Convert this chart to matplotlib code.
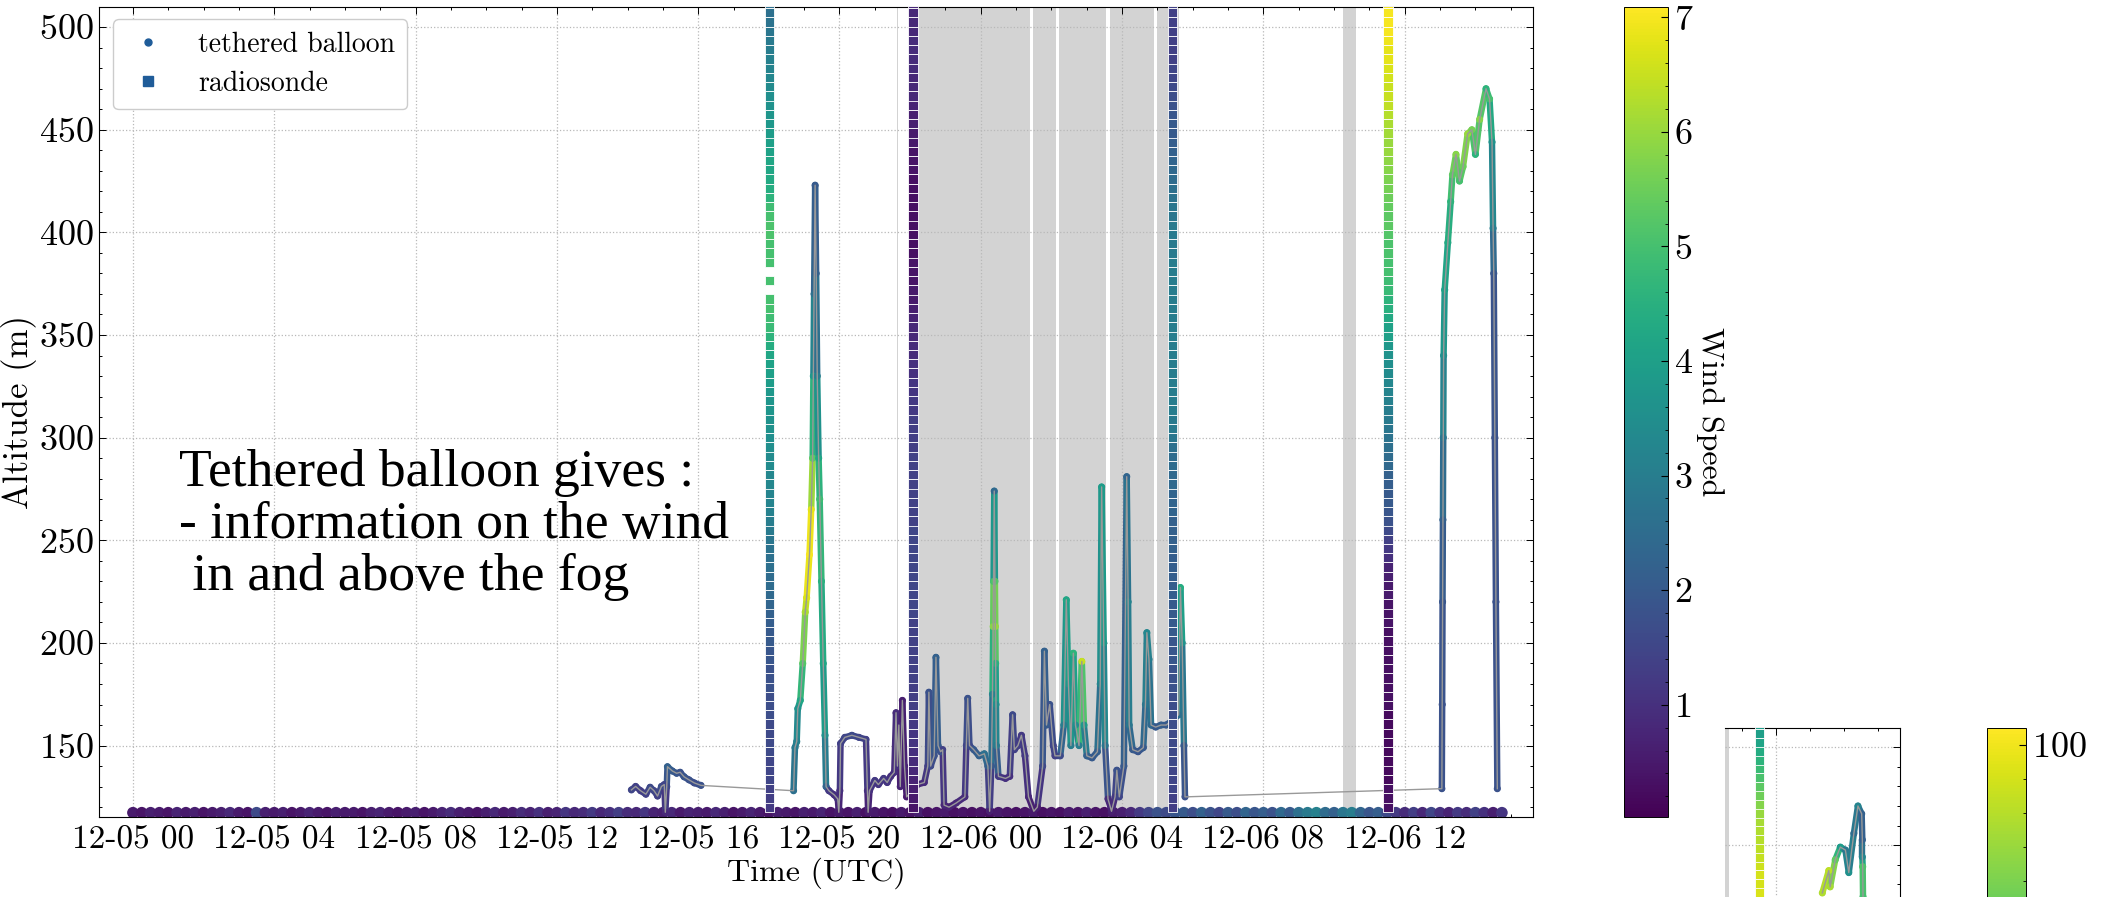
#!/usr/bin/env python3

'''altitude / time plot of tethered balloon and radiosonde wind speed'''

import numpy as np
import matplotlib
matplotlib.use('Agg')
import matplotlib.pyplot as plt
import matplotlib.dates as mdates
from matplotlib.collections import LineCollection
from matplotlib.lines import Line2D
from matplotlib.ticker import MultipleLocator

T0 = mdates.date2num(np.datetime64('2020-12-05T00:00'))

# fog periods (hours since 12-05 00 UTC)
fog_start = [21.62, 21.98, 25.49, 26.20, 27.67, 29.00, 34.26]
fog_end = [21.66, 25.39, 26.12, 27.53, 28.90, 29.60, 34.62]

# ground level wind, one value every 15 min from 12-05 00
band_alt = 117.3
band_ws = [
    0.5, 0.4, 0.6, 0.5, 0.4, 0.7, 0.5, 0.6, 0.4, 0.5, 0.6, 0.8, 0.5, 0.4, 1.6, 0.6,
    0.5, 0.6, 0.4, 0.5, 0.7, 0.5, 0.4, 0.6, 0.5, 0.5, 0.4, 0.6, 0.7, 0.5, 0.4, 0.5,
    0.6, 0.4, 0.5, 0.7, 0.9, 0.6, 0.5, 0.4, 0.6, 0.8, 0.5, 0.6, 0.9, 0.7, 1.0, 0.6,
    0.7, 1.1, 0.8, 0.9, 1.2, 0.8, 1.0, 1.3, 0.9, 0.8, 1.1, 0.7, 0.6, 0.8, 0.5, 0.7,
    0.6, 0.5, 0.8, 0.6, 0.4, 0.5, 0.7, 0.5, 0.4, 0.6, 0.5, 0.4, 0.6, 0.5, 0.7, 0.4,
    0.5, 0.4, 0.6, 0.3, 0.5, 0.4, 0.3, 0.5, 0.4, 0.6, 0.3, 0.4, 0.5, 0.3, 0.4, 0.3,
    0.4, 0.3, 0.5, 0.4, 0.3, 0.4, 0.5, 0.3, 0.4, 0.3, 0.5, 0.4, 0.6, 0.4, 0.3, 0.5,
    0.6, 0.8, 1.2, 1.5, 1.8, 1.6, 1.9, 2.0, 1.7, 2.2, 1.8, 1.5, 2.0, 1.7, 2.3, 1.9,
    2.1, 1.8, 2.4, 2.0, 2.6, 2.9, 3.1, 2.5, 2.2, 2.8, 3.0, 2.3, 1.9, 2.1, 1.6, 1.2,
    0.9, 1.3, 0.8, 1.5, 1.0, 0.7, 1.2, 0.9, 1.4, 1.0, 0.6, 1.1]
band_step = 0.25

# tethered balloon flights: hours, altitude (m), wind speed
fl1_h = [14.11, 14.23, 14.37, 14.52, 14.64, 14.75, 14.85, 14.96, 15.04, 15.07,
         15.11, 15.13, 15.27, 15.39, 15.49, 15.60, 15.74, 15.89, 16.08]
fl1_alt = [128.4, 130.1, 128.0, 126.3, 129.7, 128.0, 125.4, 130.1, 131.0, 117.5,
           130.0, 139.7, 137.6, 136.5, 137.0, 134.8, 133.3, 131.8, 130.6]
fl1_ws = [1.5, 1.4, 1.3, 1.4, 1.6, 1.5, 1.4, 1.7, 1.5, 0.8,
          1.6, 2.2, 2.0, 1.9, 1.8, 1.9, 1.8, 1.7, 1.8]

fl2_h = [18.70, 18.74, 18.79, 18.82, 18.89, 18.96, 19.03, 19.07, 19.15, 19.20,
         19.24, 19.26, 19.28, 19.31, 19.34, 19.37, 19.41, 19.44, 19.49, 19.54,
         19.59, 19.62,
         19.70, 19.85, 19.95, 19.98, 20.01, 20.03, 20.15, 20.35, 20.55, 20.75,
         20.79, 20.81, 20.85, 21.00, 21.10, 21.25, 21.35, 21.45, 21.55, 21.60,
         21.64, 21.68, 21.72, 21.78, 21.84, 21.90,
         22.20, 22.40, 22.50, 22.53, 22.58, 22.68, 22.73, 22.79, 22.86, 22.92,
         22.96, 23.10, 23.30, 23.55, 23.59, 23.63, 23.68, 23.80, 23.95, 24.10,
         24.20, 24.25, 24.30, 24.33, 24.35, 24.36, 24.38, 24.40, 24.41, 24.42,
         24.43, 24.44, 24.50, 24.70, 24.82, 24.90, 24.95, 25.05, 25.15, 25.25,
         25.35, 25.50, 25.60, 25.75, 25.80, 25.86, 25.95, 26.05, 26.10, 26.25,
         26.35, 26.42, 26.48, 26.55, 26.62, 26.68, 26.78, 26.86, 26.92, 27.00,
         27.15, 27.30, 27.38, 27.42, 27.48, 27.52, 27.60, 27.70, 27.80, 27.85,
         27.92, 28.05, 28.13, 28.17, 28.20, 28.30, 28.45, 28.60, 28.66, 28.70,
         28.76, 28.82, 28.95, 29.10, 29.25, 29.40, 29.60, 29.65, 29.70, 29.75,
         29.78]
fl2_alt = [128, 149, 152, 168, 172, 190, 215, 222, 243, 265,
           290, 330, 370, 423, 380, 330, 290, 270, 230, 190,
           155, 130,
           128, 126, 124, 117.5, 128, 151, 154, 155, 154, 153,
           128, 117.5, 128, 133, 131, 134, 132, 135, 137, 166,
           140, 160, 130, 172, 140, 125,
           131, 132, 140, 176, 140, 145, 193, 150, 147, 148,
           121, 120, 122, 125, 150, 173, 150, 148, 145, 146,
           140, 118, 140, 175, 208, 230, 274, 230, 208, 190,
           170, 150, 135, 134, 135, 165, 148, 150, 155, 145,
           125, 118, 120, 140, 196, 160, 170, 150, 145, 145,
           160, 221, 180, 150, 195, 160, 150, 191, 160, 145,
           144, 147, 180, 276, 200, 150, 124, 118, 125, 138,
           125, 140, 281, 220, 160, 148, 147, 149, 170, 205,
           192, 160, 159, 160, 160, 162, 165, 227, 200, 150,
           125]
fl2_ws = [2.6, 2.9, 3.1, 3.6, 4.2, 5.2, 6.2, 6.7, 7.0, 6.8,
          5.3, 3.8, 2.6, 2.0, 2.2, 3.0, 4.2, 4.9, 4.5, 4.2,
          3.6, 2.3,
          1.2, 1.0, 1.0, 0.5, 1.0, 1.4, 1.5, 1.6, 1.5, 1.4,
          1.0, 0.5, 1.0, 1.2, 1.1, 1.2, 1.1, 1.0, 1.0, 0.9,
          1.0, 0.8, 0.7, 0.6, 0.7, 0.5,
          0.8, 0.9, 1.4, 1.8, 1.6, 1.8, 2.2, 2.0, 1.8, 1.4,
          0.8, 0.7, 0.8, 0.9, 1.5, 1.8, 1.6, 2.0, 2.2, 2.6,
          2.2, 0.6, 2.0, 3.2, 5.8, 5.0, 2.4, 5.2, 6.0, 4.5,
          3.5, 3.0, 1.2, 1.0, 1.0, 1.6, 1.4, 1.3, 1.2, 1.2,
          0.8, 0.5, 0.6, 1.6, 2.2, 2.0, 1.8, 1.5, 1.4, 1.6,
          3.0, 4.2, 3.8, 3.0, 4.6, 3.5, 3.0, 6.5, 3.8, 2.2,
          2.0, 2.1, 3.2, 3.9, 3.8, 2.8, 0.9, 0.6, 1.2, 1.8,
          1.5, 2.0, 2.3, 3.2, 2.8, 2.0, 1.9, 2.0, 2.8, 3.3,
          3.0, 2.4, 2.0, 2.1, 2.0, 2.1, 2.6, 4.4, 3.6, 2.0,
          1.8]

fl3_h = [37.05, 37.06, 37.07, 37.08, 37.09, 37.10, 37.13, 37.22, 37.30, 37.35,
         37.45, 37.55, 37.65, 37.78, 37.90, 38.00, 38.12, 38.30, 38.40, 38.47,
         38.50, 38.52, 38.55, 38.58, 38.62]
fl3_alt = [129, 170, 220, 260, 300, 340, 372, 395, 415, 428,
           438, 425, 432, 448, 450, 438, 455, 470, 465, 444,
           402, 380, 300, 220, 129]
fl3_ws = [1.8, 1.8, 1.9, 2.2, 2.8, 3.5, 4.0, 4.3, 4.6, 5.3,
          5.8, 5.0, 5.5, 6.0, 5.6, 4.6, 5.8, 4.6, 5.0, 3.6,
          3.0, 1.9, 1.8, 1.8, 1.8]

# radiosondes: launch hour, wind speed at levels every 4.5 m from 120 m
sonde_base = 120.0
sonde_step = 4.5
sonde_h = [18.02, 22.08, 29.43, 35.52]
sonde1_ws = [1.2, 1.3, 1.4, 1.5, 1.5, 1.5, 1.6, 1.6, 1.6, 1.6, 1.7,
             1.7, 1.7, 1.8, 1.8, 1.8, 1.9, 1.9, 2.0, 2.0, 2.1,
             2.2, 2.3, 2.4, 2.5, 2.5, 2.6, 2.6, 2.7,
             2.8, 2.9, 3.0, 3.1, 3.2, 3.2, 3.3, 3.3, 3.4,
             3.4, 3.5, 3.5, 3.6, 3.6, 3.7, 3.7, 3.8, 3.9,
             4.0, 4.1, 4.2, 4.4, 4.6, 4.8,
             4.9, 5.0, 5.0, np.nan, 5.0, np.nan,
             5.0, 5.0, 5.0, 5.1, 5.1, 5.0, 4.9,
             4.6, 4.4, 4.3, 4.2, 4.2, 4.1, 4.0,
             3.9, 3.8, 3.7, 3.6, 3.5, 3.4,
             3.3, 3.2, 3.1, 3.0, 2.9, 2.8, 2.7, 2.6, 2.6]
sonde2_ws = [0.4, 0.5, 0.6, 0.7, 0.8, 0.9,
             1.0, 1.1, 1.1, 1.2, 1.2, 1.3, 1.3, 1.3, 1.4, 1.4, 1.4, 1.4, 1.4, 1.4, 1.4,
             1.5, 1.5, 1.5, 1.5, 1.5, 1.5, 1.5, 1.5, 1.5, 1.5, 1.4, 1.4, 1.4, 1.4,
             1.4, 1.4, 1.4, 1.4, 1.3, 1.3, 1.3, 1.3, 1.2,
             1.2, 1.1, 1.1, 1.0, 1.0, 0.9, 0.9, 0.8, 0.8, 0.7,
             0.6, 0.5, 0.5, 0.4, 0.4, 0.4, 0.3, 0.3, 0.3, 0.3, 0.3, 0.3, 0.3, 0.3,
             0.3, 0.4, 0.4, 0.4, 0.5, 0.5, 0.6, 0.6,
             0.7, 0.8, 0.8, 0.8, 0.9, 0.9, 0.9, 0.9, 0.8, 0.8, 0.8, 0.8]
sonde3_ws = [1.3, 1.4, 1.5, 1.5, 1.5, 1.6,
             1.6, 1.6, 1.6, 1.7, 1.7, 1.7, 1.7, 1.8, 1.8, 1.8, 1.9, 1.9, 1.9, 2.0, 2.0,
             2.0, 2.0, 2.1, 2.1, 2.1, 2.1, 2.1, 2.2, 2.2, 2.2, 2.2, 2.3, 2.3,
             2.3, 2.4, 2.4, 2.5, 2.5, 2.6,
             2.8, 2.9, 2.9, 3.0, 3.0, 3.0, 3.0, 3.0, 3.0, 3.0, 3.0, 3.0, 3.0,
             3.0, 3.0, 3.0, 3.0, 3.0, 3.0, 3.0, 2.9, 2.9, 2.9, 2.9, 2.8, 2.8,
             2.7, 2.6, 2.5, 2.4, 2.3, 2.2, 2.1, 2.0, 2.0, 1.9, 1.8, 1.7, 1.6,
             1.5, 1.5, 1.4, 1.4, 1.4, 1.4, 1.4, 1.4, 1.4]
sonde4_ws = [0.3, 0.3, 0.3, 0.2, 0.2, 0.2, 0.2, 0.2, 0.2, 0.2, 0.2, 0.3, 0.3,
             0.3, 0.3, 0.3, 0.3, 0.3, 0.3, 0.3, 0.4, 0.4, 0.4, 0.5, 0.5, 0.6, 0.7,
             1.0, 1.2, 1.4, 1.6,
             1.8, 1.9, 2.0, 2.0, 2.1, 2.2, 2.4,
             2.5, 2.6, 2.7, 2.8, 2.9, 3.0, 3.1,
             3.2, 3.3, 3.4, 3.5, 3.6, 3.8, 4.0,
             4.1, 4.3, 4.5, 4.6, 4.8, 4.9, 5.0,
             5.0, 5.1, 5.1, 5.2, 5.3, 5.3, 5.4,
             5.5, 5.6, 5.7, 5.8, 5.9, 6.0, 6.0,
             6.1, 6.2, 6.3, 6.4, 6.5, 6.5, 6.6,
             6.7, 6.8, 6.8, 6.9, 7.0, 7.0, 7.0, 7.0]

# second panel (relative humidity), only its upper right corner is in the frame
sonde4_rh_first = 67  # level index of the first visible RH value
sonde4_rh = [98.5, 98.5, 98.0, 98.0, 97.5, 97.0, 96.5, 96.0,
             95.5, 95.0, 94.0, 92.5, 91.0, 89.5, 88.0,
             86.5, 85.0, 83.5, 82.0, 81.0, 80.5]
rh_h = [37.37, 37.56, 37.60, 37.75, 37.90, 38.05, 38.15, 38.30, 38.42, 38.53,
        38.55, 38.55, 38.56, 38.57]
rh_alt = [425.6, 437.0, 428.7, 442.5, 449.0, 447.5, 436.0, 456.0, 470.0, 466.0,
          452.7, 444.0, 439.0, 423.6]
rh_val = [95.5, 96.5, 95.0, 90.0, 80.5, 73.7, 78.3, 71.4, 76.0, 69.2,
          69.2, 76.0, 88.3, 87.5]
rh_ticks = [100]

FIG_W, FIG_H = 2113, 897


def tnum(h):
    '''hours since 12-05 00 -> matplotlib date number'''
    return T0 + np.asarray(h, dtype=float) / 24.0


def frac(x0, y0, w, h):
    '''pixel box (top-left origin) -> figure fraction rect'''
    return [x0 / FIG_W, 1 - (y0 + h) / FIG_H, w / FIG_W, h / FIG_H]


def draw_track(ax, hours, alt, val, cmap, norm):
    x = tnum(hours)
    pts = np.column_stack([x, alt])
    segs = np.stack([pts[:-1], pts[1:]], axis=1)
    val = np.asarray(val, dtype=float)
    lc = LineCollection(segs, cmap=cmap, norm=norm, linewidths=4.6,
                        capstyle='round', zorder=2.5)
    lc.set_array((val[:-1] + val[1:]) / 2)
    ax.add_collection(lc)
    ax.scatter(x, alt, c=val, cmap=cmap, norm=norm, s=26, edgecolors='none', zorder=3)


def style_axes(ax, labels=True):
    ax.xaxis.set_major_locator(mdates.HourLocator(byhour=range(0, 24, 4)))
    ax.xaxis.set_major_formatter(mdates.DateFormatter('%m-%d %H'))
    ax.xaxis.set_minor_locator(mdates.HourLocator())
    ax.yaxis.set_major_locator(MultipleLocator(50))
    ax.yaxis.set_minor_locator(MultipleLocator(10))
    ax.tick_params(which='both', direction='in', top=True, right=True, width=0.7)
    ax.tick_params(which='major', length=5, pad=6)
    ax.tick_params(which='minor', length=2.5)
    ax.tick_params(axis='x', labelsize=24)
    ax.tick_params(axis='y', labelsize=26, pad=4)
    ax.grid(True, which='major', color='0.72', ls=':', lw=0.9)
    ax.set_axisbelow(True)
    if not labels:
        ax.tick_params(labelbottom=False, labelleft=False)


plt.rcParams.update({
    'font.family': 'serif',
    'font.serif': ['cmr10'],
    'mathtext.fontset': 'cm',
    'axes.formatter.use_mathtext': True,
    'font.size': 22,
    'axes.linewidth': 0.8,
})

cmap = plt.get_cmap('viridis')
norm = plt.Normalize(0.02, 7.09)
norm_rh = plt.Normalize(55.5, 101.0)
levels = sonde_base + sonde_step * np.arange(len(sonde1_ws))

fig = plt.figure(figsize=(FIG_W / 100, FIG_H / 100), dpi=100)
ax = fig.add_axes(frac(99, 7, 1434, 810))
cax = fig.add_axes(frac(1624, 7, 44, 810))

for a, b in zip(fog_start, fog_end):
    ax.axvspan(tnum(a), tnum(b), color='lightgray', lw=0, zorder=0.2)

band_h = band_step * np.arange(len(band_ws))
ax.scatter(tnum(band_h), np.full(len(band_ws), band_alt), c=band_ws, cmap=cmap,
           norm=norm, s=70, edgecolors='none', zorder=2)

flights = [(fl1_h, fl1_alt, fl1_ws), (fl2_h, fl2_alt, fl2_ws), (fl3_h, fl3_alt, fl3_ws)]
for fh, falt, fws in flights:
    draw_track(ax, fh, falt, fws, cmap, norm)
all_h = np.concatenate([f[0] for f in flights])
all_alt = np.concatenate([f[1] for f in flights])
ax.plot(tnum(all_h), all_alt, color='0.6', lw=1.0, zorder=3.5)

for sh, sws in zip(sonde_h, [sonde1_ws, sonde2_ws, sonde3_ws, sonde4_ws]):
    ax.scatter(np.full(len(sws), tnum(sh)), levels, c=sws, cmap=cmap, norm=norm,
               marker='s', s=46, edgecolors='white', linewidths=0.6, zorder=4)

ax.set_xlim(tnum(-0.96), tnum(39.63))
ax.set_ylim(115.2, 509.8)
style_axes(ax)
ax.set_xlabel('Time (UTC)', labelpad=2, fontsize=23)
ax.set_ylabel('Altitude (m)', labelpad=1, fontsize=25)

handles = [Line2D([], [], ls='none', marker='o', ms=5, color='#1f5c99'),
           Line2D([], [], ls='none', marker='s', ms=6.5, color='#1f5c99')]
ax.legend(handles, ['tethered balloon', 'radiosonde'], loc='upper left',
          bbox_to_anchor=(0.0098, 0.985), borderaxespad=0, fontsize=20,
          handlelength=1.6, handletextpad=1.0, labelspacing=0.45, borderpad=0.45,
          fancybox=True, framealpha=1, edgecolor='0.8')

ax.text(0.0558, 0.454, 'Tethered balloon gives :\n- information on the wind\n in and above the fog',
        transform=ax.transAxes, family='Liberation Serif', fontsize=38.5,
        va='top', ha='left', linespacing=1.1, zorder=6)

cb = fig.colorbar(plt.cm.ScalarMappable(norm=norm, cmap=cmap), cax=cax)
cb.set_ticks(range(1, 8))
cb.ax.yaxis.set_minor_locator(MultipleLocator(0.2))
cb.ax.tick_params(which='both', direction='in', right=True, left=False, pad=4, labelsize=26)
cb.ax.tick_params(which='major', length=5)
cb.ax.tick_params(which='minor', length=2.5)
cb.outline.set_linewidth(0.7)
cb.set_label('Wind Speed', rotation=270, labelpad=22, fontsize=23)

# relative humidity panel, cut by the figure edge
ax2 = fig.add_axes(frac(1725, 728, 175, 773))
for a, b in zip(fog_start, fog_end):
    ax2.axvspan(tnum(a), tnum(b), color='lightgray', lw=0, zorder=0.2)
ax2.scatter(np.full(len(sonde4_rh), tnum(sonde_h[3])), levels[sonde4_rh_first:],
            c=sonde4_rh, cmap=cmap, norm=norm_rh, marker='s', s=46,
            edgecolors='white', linewidths=0.6, zorder=4)
draw_track(ax2, rh_h, rh_alt, rh_val, cmap, norm_rh)
ax2.plot(tnum(rh_h), rh_alt, color='0.6', lw=1.0, zorder=3.5)
ax2.set_xlim(tnum(34.5), tnum(39.66))
ax2.set_ylim(115.2, 509.8)
style_axes(ax2, labels=False)
ax2.spines['left'].set_visible(False)
ax2.tick_params(left=False, which='both')

cax2 = fig.add_axes(frac(1987, 728, 39, 773))
cb2 = fig.colorbar(plt.cm.ScalarMappable(norm=norm_rh, cmap=cmap), cax=cax2)
cb2.set_ticks(rh_ticks)
cb2.ax.yaxis.set_minor_locator(MultipleLocator(2))
cb2.ax.tick_params(which='both', direction='in', right=True, left=False, pad=4, labelsize=26)
cb2.ax.tick_params(which='major', length=5)
cb2.ax.tick_params(which='minor', length=2.5)
cb2.outline.set_linewidth(0.7)

fig.savefig('out.png', dpi=100)
